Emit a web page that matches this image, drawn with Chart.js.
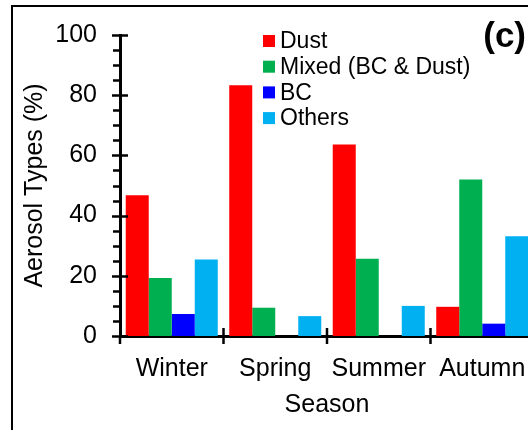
<!DOCTYPE html>
<html>
<head>
<meta charset="utf-8">
<script src="https://cdn.jsdelivr.net/npm/chart.js@4.4.1/dist/chart.umd.min.js"></script>
<style>
    html, body { margin: 0; padding: 0; background: #fff; overflow: hidden; }
    #wrap { position: relative; width: 540px; height: 430px; }
</style>
</head>
<body>
<div id="wrap"><canvas id="aerosolChart" width="540" height="430"></canvas></div>
<script>
const seasons = ['Winter', 'Spring', 'Summer', 'Autumn'];
const dust = [46.8, 83.3, 63.6, 9.7];
const mixed = [19.3, 9.4, 25.7, 52.0];
const bc = [7.3, 0, 0, 4.1];
const others = [25.4, 6.6, 10.0, 33.1];

const yTicks = [0, 20, 40, 60, 80, 100];

const FONT = 'Liberation Sans, Arial, sans-serif';

// Frame lines, axis tick marks, legend and panel letter
const decorPlugin = {
    id: 'decor',
    afterDraw(chart) {
        const ctx = chart.ctx;
        const x = chart.scales.x;
        const y = chart.scales.y;
        ctx.save();
        ctx.strokeStyle = '#000';

        // outer frame (left and top)
        ctx.lineWidth = 2;
        ctx.beginPath();
        ctx.moveTo(12, 430);
        ctx.lineTo(12, 6);
        ctx.lineTo(540, 6);
        ctx.stroke();

        // y ticks: major every 20, minor every 5
        const ax = x.left;
        ctx.lineWidth = 2.5;
        for (let v = 0; v <= 100; v += 5) {
            const py = Math.round(y.getPixelForValue(v)) + 0.5;
            ctx.beginPath();
            if (v % 20 === 0) {
                ctx.moveTo(ax - 8, py);
                ctx.lineTo(ax + 8, py);
            } else {
                ctx.moveTo(ax - 7, py);
                ctx.lineTo(ax, py);
            }
            ctx.stroke();
        }

        // x ticks at category boundaries
        const ay = y.bottom;
        const step = x.width / seasons.length;
        for (let i = 0; i <= seasons.length; i++) {
            const px = x.left + step * i;
            ctx.beginPath();
            ctx.moveTo(px, i === 0 ? ay : ay - 8);
            ctx.lineTo(px, ay + 8);
            ctx.stroke();
        }

        // legend
        ctx.font = '23px ' + FONT;
        ctx.textBaseline = 'middle';
        ctx.textAlign = 'left';
        chart.data.datasets.forEach((ds, i) => {
            const cy = 41 + i * 25.7;
            ctx.fillStyle = ds.backgroundColor;
            ctx.fillRect(263, cy - 6, 12, 12);
            ctx.fillStyle = '#000';
            ctx.fillText(ds.label, 280, cy + 1);
        });

        // panel letter
        ctx.font = 'bold 35px ' + FONT;
        ctx.textAlign = 'right';
        ctx.fillText('(c)', 526, 37);
        ctx.restore();
    }
};

const ctx = document.getElementById('aerosolChart').getContext('2d');

new Chart(ctx, {
    type: 'bar',
    data: {
        labels: seasons,
        datasets: [
            { label: 'Dust', data: dust, backgroundColor: '#FF0000' },
            { label: 'Mixed (BC & Dust)', data: mixed, backgroundColor: '#00B050' },
            { label: 'BC', data: bc, backgroundColor: '#0000FF' },
            { label: 'Others', data: others, backgroundColor: '#00B0F0' }
        ]
    },
    options: {
        responsive: false,
        animation: false,
        layout: { padding: { top: 35, right: 6, left: 0, bottom: 0 } },
        datasets: {
            bar: { barPercentage: 1, categoryPercentage: 0.889, borderWidth: 0 }
        },
        plugins: {
            legend: { display: false },
            tooltip: { enabled: false }
        },
        scales: {
            x: {
                grid: { display: false, drawTicks: false },
                border: { display: true, color: '#000', width: 3 },
                ticks: { color: '#000', font: { family: FONT, size: 25 }, padding: 18, maxRotation: 0 },
                title: {
                    display: true, text: 'Season', color: '#000',
                    font: { family: FONT, size: 25 }, padding: { top: 0, bottom: 10 }
                },
                afterFit(scale) {
                    scale.height = 94;
                    scale.paddingLeft = 0;
                    scale.paddingRight = 0;
                }
            },
            y: {
                min: 0,
                max: 100,
                afterBuildTicks(scale) { scale.ticks = yTicks.map(v => ({ value: v })); },
                grid: { display: false, drawTicks: false },
                border: { display: true, color: '#000', width: 3 },
                ticks: { color: '#000', font: { family: FONT, size: 25 }, padding: 23 },
                title: {
                    display: true, text: 'Aerosol Types (%)', color: '#000',
                    font: { family: FONT, size: 25 }, padding: { top: 20, bottom: 0 }
                },
                afterFit(scale) {
                    scale.width = 120;
                    scale.paddingTop = 0;
                    scale.paddingBottom = 0;
                }
            }
        }
    },
    plugins: [decorPlugin]
});
</script>
</body>
</html>
